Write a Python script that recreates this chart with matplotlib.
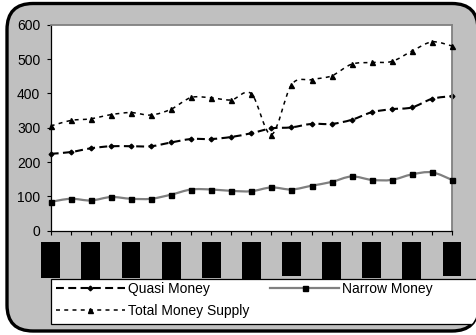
import numpy as np
import matplotlib
matplotlib.use("Agg")
import matplotlib.pyplot as plt
from matplotlib.path import Path
from matplotlib.patches import PathPatch, FancyBboxPatch, Rectangle
from matplotlib.lines import Line2D
from matplotlib.transforms import IdentityTransform, blended_transform_factory

plt.rcParams['font.family'] = ['Liberation Sans', 'DejaVu Sans']

# ---- data (21 periods) ----
periods = list(range(21))
quasi_money = [224, 229, 240, 246, 246, 246, 257, 267, 267, 273, 284,
               298, 301, 311, 311, 323, 345, 354, 359, 384, 392]
narrow_money = [84, 93, 88, 98, 93, 93, 105, 120, 120, 116, 115,
                126, 120, 131, 142, 158, 148, 148, 164, 170, 148]
total_money = [305, 321, 326, 338, 344, 337, 354, 388, 387, 381, 399,
               280, 425, 440, 451, 485, 490, 493, 523, 550, 538]
y_ticks = [0, 100, 200, 300, 400, 500, 600]
series_names = ["Quasi Money", "Narrow Money", "Total Money Supply"]

W, H = 477, 335
fig = plt.figure(figsize=(W / 100, H / 100), dpi=100)
fig.patch.set_facecolor('white')

# rounded grey chart area
frame = FancyBboxPatch((7, 4), 471, 327.5,
                       boxstyle="round,pad=0,rounding_size=26",
                       transform=IdentityTransform(), facecolor='#c0c0c0',
                       edgecolor='black', linewidth=2.4, zorder=-1)
fig.patches.append(frame)

ax = fig.add_axes([50.7 / W, 1 - 230.7 / H, (452 - 50.7) / W, (230.7 - 24.7) / H])
ax.set_zorder(0.5)
ax.set_facecolor('white')
ax.set_xlim(0, 20)
ax.set_ylim(0, 600)
ax.set_yticks(y_ticks)
ax.set_xticks(periods)
ax.set_xticklabels([])
for s in ['top', 'right']:
    ax.spines[s].set_color('#808080')
    ax.spines[s].set_linewidth(1.3)
for s in ['left', 'bottom']:
    ax.spines[s].set_color('black')
    ax.spines[s].set_linewidth(0.9)
ax.tick_params(axis='both', direction='out', length=3, width=0.8, color='black')
ax.tick_params(axis='y', labelsize=10, pad=4.5)


def smooth_path(xs, ys):
    pts = np.column_stack([xs, ys]).astype(float)
    n = len(pts)
    verts = [tuple(pts[0])]
    codes = [Path.MOVETO]
    for i in range(n - 1):
        p_prev = pts[i - 1] if i > 0 else pts[i]
        p_next = pts[i + 2] if i + 2 < n else pts[i + 1]
        c1 = pts[i] + (pts[i + 1] - p_prev) / 6.0
        c2 = pts[i + 1] - (p_next - pts[i]) / 6.0
        verts += [tuple(c1), tuple(c2), tuple(pts[i + 1])]
        codes += [Path.CURVE4] * 3
    return Path(verts, codes)


styles = [
    dict(color='black', lw=1.5, ls=(0, (3.8, 2.1)), marker='D', ms=2.4, mfc='black'),
    dict(color='#808080', lw=1.6, ls='-', marker='s', ms=3.6, mfc='black'),
    dict(color='black', lw=1.1, ls=(0, (2.6, 2.8)), marker='^', ms=3.6, mfc='black'),
]
series = [quasi_money, narrow_money, total_money]
handles = []
for k, (vals, st) in enumerate(zip(series, styles)):
    patch = PathPatch(smooth_path(periods, vals), fill=False, edgecolor=st['color'],
                      linewidth=st['lw'], linestyle=st['ls'], capstyle='butt',
                      transform=ax.transData, zorder=2 + k)
    ax.add_patch(patch)
    ax.plot(periods, vals, linestyle='none', marker=st['marker'], ms=st['ms'],
            mfc=st['mfc'], mec='black', clip_on=False, zorder=2.5 + k)
    handles.append(Line2D([], [], color=st['color'], lw=st['lw'], ls=st['ls'],
                          marker=st['marker'], ms=st['ms'], mfc=st['mfc'], mec='black'))

# category label blocks under the axis
box_bottoms = [277.5, 281, 278, 281, 277.5, 281, 276, 281, 277.7, 281, 276]
btrans = blended_transform_factory(ax.transData, fig.transFigure)
for j, bottom in zip(range(0, 21, 2), box_bottoms):
    top = 241.7
    fig.patches.append(Rectangle((j - 0.47, 1 - bottom / H), 0.94, (bottom - top) / H,
                                 transform=btrans, facecolor='black',
                                 edgecolor='none', zorder=1))

# legend box (runs off the right side of the chart area)
lbox = Rectangle((50.5, H - 324), 460, 45, transform=IdentityTransform(),
                 facecolor='white', edgecolor='black', linewidth=0.9, zorder=3)
fig.patches.append(lbox)
lbox.set_clip_path(frame)

order = [0, 2, 1]
leg = fig.legend([handles[i] for i in order], [series_names[i] for i in order],
                 ncol=2, loc='upper left', bbox_to_anchor=(56 / W, 1 - 281.5 / H),
                 frameon=False, fontsize=10, handlelength=4.96, handletextpad=0.22,
                 columnspacing=1.5, labelspacing=0.6, borderpad=0, borderaxespad=0,
                 numpoints=1)
leg.set_zorder(5)

fig.savefig('out.png', dpi=100, facecolor='white')
